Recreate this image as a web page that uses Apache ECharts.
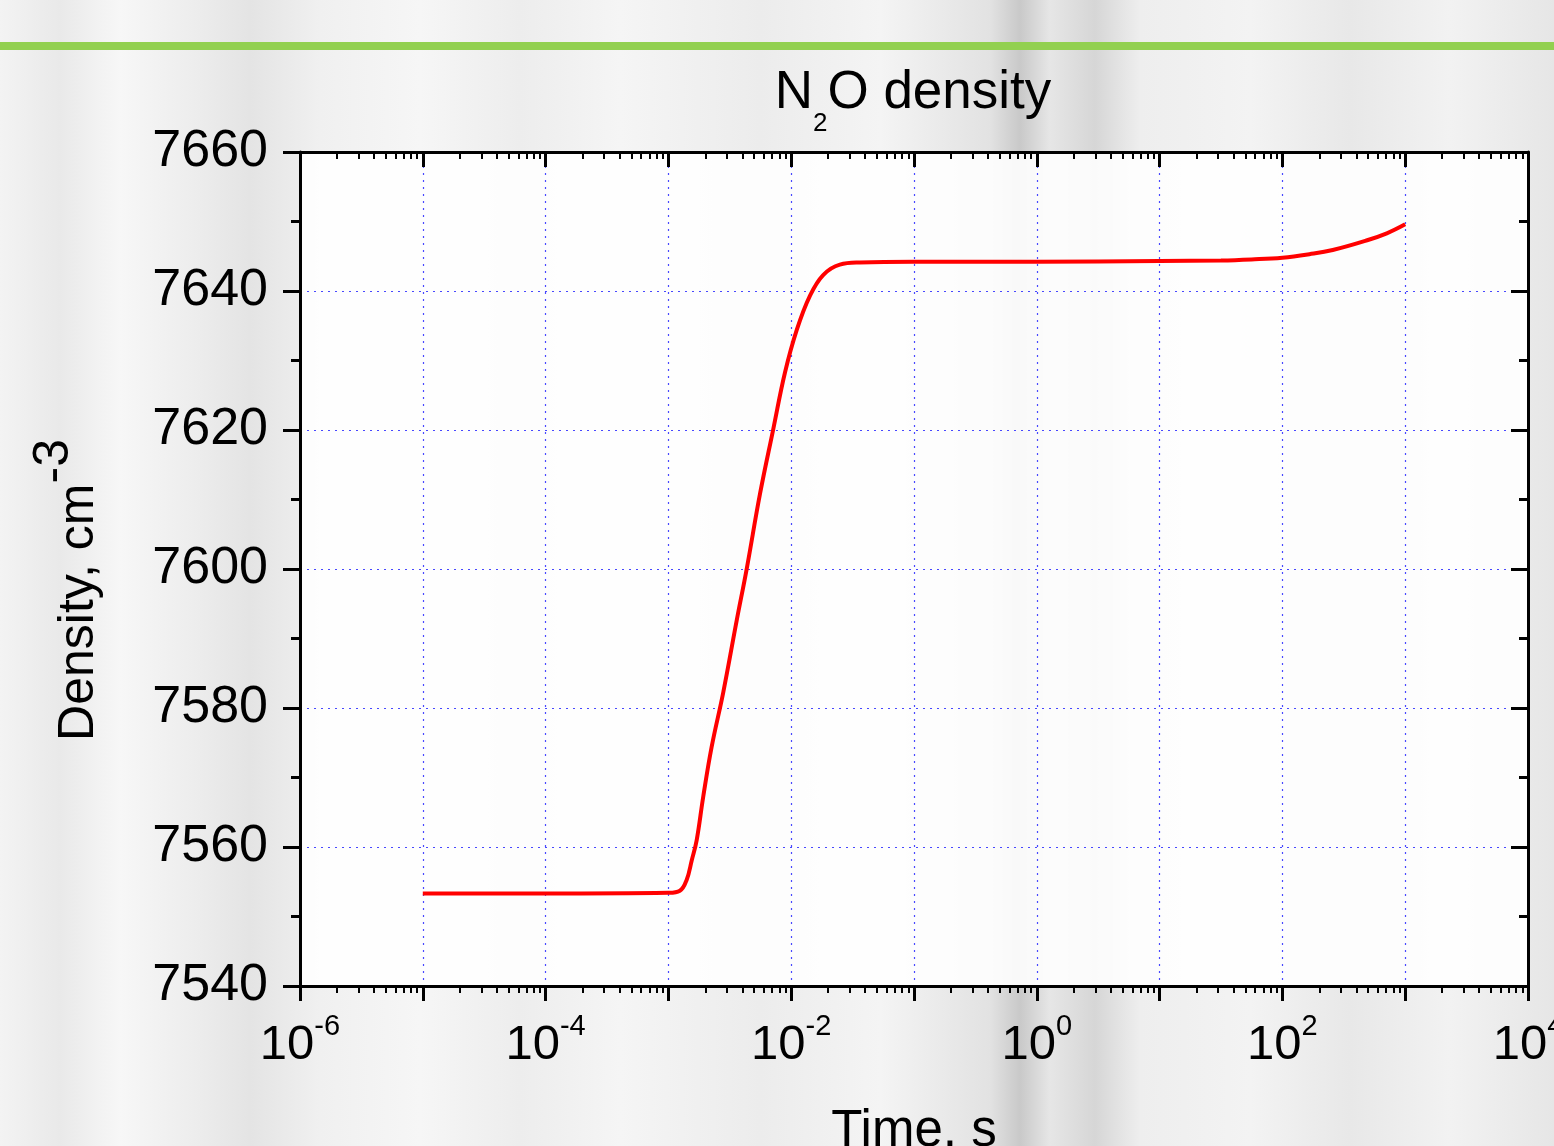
<!DOCTYPE html>
<html>
<head>
<meta charset="utf-8">
<script src="https://cdn.jsdelivr.net/npm/echarts@6/dist/echarts.min.js"></script>
<style>
html, body { margin: 0; padding: 0; }
body {
  width: 1554px; height: 1146px; overflow: hidden;
  background:
    linear-gradient(90deg,
      #f3f3f3 0px, #e9e9e9 60px, #f7f7f7 120px, #ececec 200px, #e4e4e4 250px, #f0f0f0 320px,
      #f6f6f6 420px, #ededed 520px, #f5f5f5 620px, #ececec 760px, #f4f4f4 880px,
      #e2e2e2 990px, #c9c9c9 1020px, #e6e6e6 1050px, #d6d6d6 1095px, #eeeeee 1140px,
      #f3f3f3 1250px, #e8e8e8 1350px, #f2f2f2 1450px, #e6e6e6 1554px);
}
#chart { width: 1554px; height: 1146px; }
</style>
</head>
<body>
<div id="chart"></div>
<script>
// ---- data ----
const times = [1e-5, 1e-4, 1e-3, 1.24e-3, 1.41e-3, 1.55e-3, 1.70e-3, 1.92e-3, 2.25e-3, 2.80e-3,
  3.60e-3, 4.35e-3, 5.57e-3, 7.14e-3, 8.91e-3, 1.11e-2, 1.42e-2, 1.82e-2, 2.49e-2, 3.63e-2,
  1e-1, 1, 10, 31.6, 56, 100, 166, 257, 490, 708, 1000];
const density = [7553.3, 7553.3, 7553.4, 7553.7, 7555.3, 7558.1, 7561.0, 7567.2, 7574.4, 7582.3,
  7592.6, 7600.1, 7610.8, 7620.1, 7628.3, 7634.4, 7639.3, 7642.3, 7643.8, 7644.1,
  7644.2, 7644.2, 7644.3, 7644.4, 7644.55, 7644.8, 7645.3, 7645.9, 7647.3, 7648.3, 7649.6];
const xMin = 1e-6, xMax = 1e4;
const yMin = 7540, yMax = 7660, yStep = 20;
const titleText = '{a|N}{s|2}{a|O density}';
const xName = 'Time, s';
const yName = '{a|Density, cm}{s|-3}';

const FONT = 'Liberation Sans, Arial, sans-serif';
const chart = echarts.init(document.getElementById('chart'));
const seriesData = times.map((t, i) => [t, density[i]]);
const gridBlue = 'rgba(40,40,255,0.85)';

const xLabelFmt = v => {
  const e = Math.round(Math.log10(v));
  if (e % 2 !== 0) return '';
  return '{b|10}{s|' + e + '}';
};

chart.setOption({
  animation: false,
  backgroundColor: 'transparent',
  title: {
    text: titleText,
    left: 908, top: 62, textAlign: 'center',
    textStyle: {
      fontWeight: 'normal',
      rich: {
        a: { fontSize: 53, fontFamily: FONT, fontWeight: 'normal', color: '#000', verticalAlign: 'top', lineHeight: 62 },
        s: { fontSize: 26, fontFamily: FONT, fontWeight: 'normal', color: '#000', verticalAlign: 'top', lineHeight: 26, padding: [44, 0, 0, 0] }
      }
    }
  },
  graphic: [{
    type: 'rect', left: 0, top: 42, shape: { width: 1554, height: 8 },
    style: { fill: '#92d050' }, z: 10
  }],
  grid: {
    left: 300, right: 26, top: 152, bottom: 160,
    show: true, backgroundColor: 'rgba(255,255,255,0.88)', borderWidth: 0,
    outerBoundsMode: 'none', containLabel: false
  },
  xAxis: [{
    type: 'log', logBase: 10, min: xMin, max: xMax, position: 'bottom',
    interval: 1, splitNumber: 10,
    name: xName, nameLocation: 'middle', nameGap: 120,
    nameTextStyle: { fontSize: 51, fontFamily: FONT, color: '#000' },
    axisLine: { onZero: false, lineStyle: { color: '#000', width: 3 } },
    axisTick: { show: true, inside: false, length: 15, lineStyle: { color: '#000', width: 3 } },
    minorTick: { show: true, splitNumber: 9, length: 7, lineStyle: { color: '#000', width: 2 } },
    axisLabel: {
      margin: 26, formatter: xLabelFmt, color: '#000',
      rich: {
        b: { fontSize: 49, fontFamily: FONT, color: '#000', lineHeight: 66 },
        s: { fontSize: 29, fontFamily: FONT, color: '#000', verticalAlign: 'top' }
      }
    },
    splitLine: { show: true, lineStyle: { color: gridBlue, width: 1.2, type: [2, 5] } },
    minorSplitLine: { show: false }
  }, {
    type: 'log', logBase: 10, min: xMin, max: xMax, position: 'top',
    interval: 1, splitNumber: 10,
    axisLine: { onZero: false, lineStyle: { color: '#000', width: 3 } },
    axisTick: { show: true, inside: true, length: 15, lineStyle: { color: '#000', width: 3 } },
    minorTick: { show: true, splitNumber: 9, length: 7, lineStyle: { color: '#000', width: 2 } },
    axisLabel: { show: false },
    splitLine: { show: false }
  }],
  yAxis: [{
    type: 'value', min: yMin, max: yMax, interval: yStep, position: 'left',
    name: yName, nameLocation: 'middle', nameRotate: 90, nameGap: 171,
    nameTextStyle: {
      padding: [0, 42, 0, 0],
      rich: {
        a: { fontSize: 50, fontFamily: FONT, color: '#000', lineHeight: 100 },
        s: { fontSize: 50, fontFamily: FONT, color: '#000', verticalAlign: 'top' }
      }
    },
    axisLine: { onZero: false, lineStyle: { color: '#000', width: 3 } },
    axisTick: { show: true, inside: false, length: 17, lineStyle: { color: '#000', width: 3 } },
    minorTick: { show: true, splitNumber: 2, length: 9, lineStyle: { color: '#000', width: 3 } },
    axisLabel: { fontSize: 52, fontFamily: FONT, color: '#000', margin: 32, formatter: v => String(v) },
    splitLine: { show: true, lineStyle: { color: gridBlue, width: 1.2, type: [2, 5] } }
  }, {
    type: 'value', min: yMin, max: yMax, interval: yStep, position: 'right',
    axisLine: { onZero: false, lineStyle: { color: '#000', width: 3 } },
    axisTick: { show: true, inside: true, length: 17, lineStyle: { color: '#000', width: 3 } },
    minorTick: { show: true, splitNumber: 2, length: 9, lineStyle: { color: '#000', width: 3 } },
    axisLabel: { show: false },
    splitLine: { show: false }
  }],
  series: [{
    type: 'line', data: seriesData, xAxisIndex: 0, yAxisIndex: 0,
    showSymbol: false, smooth: 0.4,
    lineStyle: { color: '#ff0000', width: 4 }, z: 5
  }]
});
</script>
</body>
</html>
